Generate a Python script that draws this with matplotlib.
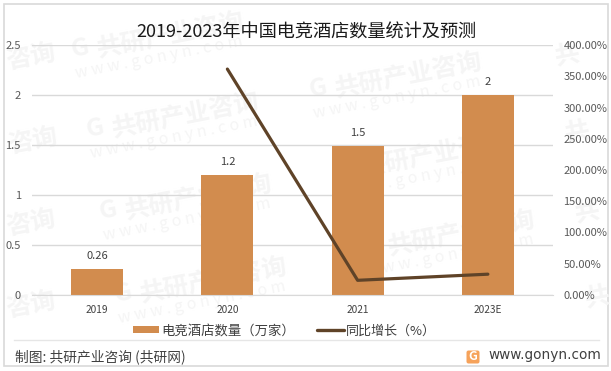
import matplotlib
matplotlib.use('Agg')
import matplotlib.pyplot as plt
from matplotlib.lines import Line2D
from matplotlib.patches import Rectangle, FancyBboxPatch

plt.rcParams['font.family'] = ['Noto Sans CJK SC', 'DejaVu Sans']

years = ['2019', '2020', '2021', '2023E']
hotels = [0.26, 1.2, 1.49, 2.0]
hotel_labels = ['0.26', '1.2', '1.5', '2']
growth = [None, 361.5, 23.5, 33.3]
left_ticks = [0, 0.5, 1, 1.5, 2, 2.5]
left_labels = ['0', '0.5', '1', '1.5', '2', '2.5']
right_ticks = [0, 50, 100, 150, 200, 250, 300, 350, 400]
right_labels = ['%.2f%%' % v for v in right_ticks]

W, H = 611, 371
bar_color = '#D28C4E'
line_color = '#5F4328'
grid_color = '#D9D9D9'
text_color = '#595959'
mark_color = '#F5F5F5'

fig = plt.figure(figsize=(W / 100, H / 100), dpi=100)


def px_axes(x0, y0, x1, y1):
    return [x0 / W, 1 - y1 / H, (x1 - x0) / W, (y1 - y0) / H]


# full figure overlay in pixel coords, for frame, watermark and footer
bg = fig.add_axes([0, 0, 1, 1], zorder=0)
bg.set_xlim(0, W)
bg.set_ylim(H, 0)
bg.axis('off')

# watermark, whole ones then the bits cut by the frame
for wx, wy in [(97, 50), (112, 130), (125, 212), (140, 295), (335, 90), (361, 169), (388, 248)]:
    bg.text(wx - 26, wy, 'G', fontsize=18, fontweight='bold', color=mark_color,
            rotation=11, ha='left', va='center', rotation_mode='anchor')
    bg.text(wx, wy, '共研产业咨询', fontsize=18, fontweight='bold', color=mark_color,
            rotation=11, ha='left', va='center', rotation_mode='anchor')
    bg.text(wx - 22, wy + 24, 'w w w . g o n y n . c o m', fontsize=11.5, color=mark_color,
            rotation=11, ha='left', va='center', rotation_mode='anchor')
for wx, wy in [(6, 62), (8, 146), (6, 228), (6, 310)]:
    bg.text(wx, wy, '咨询', fontsize=18, fontweight='bold', color=mark_color,
            rotation=11, ha='left', va='center', rotation_mode='anchor')
for wx, wy in [(555, 58), (565, 135), (575, 215), (585, 300)]:
    bg.text(wx, wy, '共', fontsize=18, fontweight='bold', color=mark_color,
            rotation=11, ha='left', va='center', rotation_mode='anchor')

bg.add_patch(Rectangle((3.5, 3.5), 604, 362.5, fill=False, ec='#D9D9D9', lw=1.2))
bg.plot([14, 599], [340, 340], color='#E6E6E6', lw=1)

bg.text(306, 33, '2019-2023年中国电竞酒店数量统计及预测', fontsize=13.1, color='#1A1A1A',
        ha='center', va='center')

# legend
bg.add_patch(Rectangle((133, 326), 26, 7, color=bar_color, lw=0))
bg.text(161, 331, '电竞酒店数量（万家）', fontsize=9.6, color='#404040', ha='left', va='center')
bg.add_line(Line2D([317, 344], [329.5, 329.5], color=line_color, lw=2.4, solid_capstyle='round'))
bg.text(346, 331, '同比增长（%）', fontsize=9.4, color='#404040', ha='left', va='center')

# footer
bg.text(15, 357, '制图: 共研产业咨询 (共研网)', fontsize=9.9, fontweight='medium', color='#404040',
        ha='left', va='center')
bg.add_patch(FancyBboxPatch((467.5, 351.5), 11, 11, boxstyle='round,pad=1,rounding_size=2',
                            fc='#F6A25A', ec='none'))
bg.text(473, 357, 'G', fontsize=9, fontweight='bold', color='white', ha='center', va='center')
bg.text(488, 355, 'www.gonyn.com', fontsize=9.8, color='#404040', ha='left', va='center',
        family='DejaVu Sans')

# chart
ax = fig.add_axes(px_axes(32, 45, 553, 295), zorder=1)
ax.patch.set_alpha(0)
x = list(range(len(years)))
ax.bar(x, hotels, width=0.4, color=bar_color, zorder=2)
ax.set_xlim(-0.5, 3.5)
ax.set_ylim(0, 2.5)
ax.set_yticks(left_ticks)
ax.set_yticklabels(left_labels, fontsize=8, color=text_color)
ax.set_xticks(x)
ax.set_xticklabels(years, fontsize=7.3, color='#404040')
ax.tick_params(length=0)
ax.tick_params(axis='x', pad=7)
ax.tick_params(axis='y', pad=8)
ax.yaxis.grid(True, color=grid_color, lw=1)
ax.set_axisbelow(True)
for s in ['top', 'left', 'right']:
    ax.spines[s].set_visible(False)
ax.spines['bottom'].set_color(grid_color)
for xi, v, lab in zip(x, hotels, hotel_labels):
    ax.annotate(lab, (xi, v), xytext=(0, 8), textcoords='offset pixels', ha='center', va='bottom',
                fontsize=8, color='#404040')

ax2 = ax.twinx()
ax2.patch.set_alpha(0)
ax2.plot(x[1:], growth[1:], color=line_color, lw=2.3, solid_capstyle='round', zorder=3)
ax2.set_ylim(0, 400)
ax2.set_yticks(right_ticks)
ax2.set_yticklabels(right_labels, fontsize=8, color=text_color)
ax2.tick_params(length=0, pad=7.5)
for s in ax2.spines.values():
    s.set_visible(False)

fig.savefig('out.png', dpi=100)
